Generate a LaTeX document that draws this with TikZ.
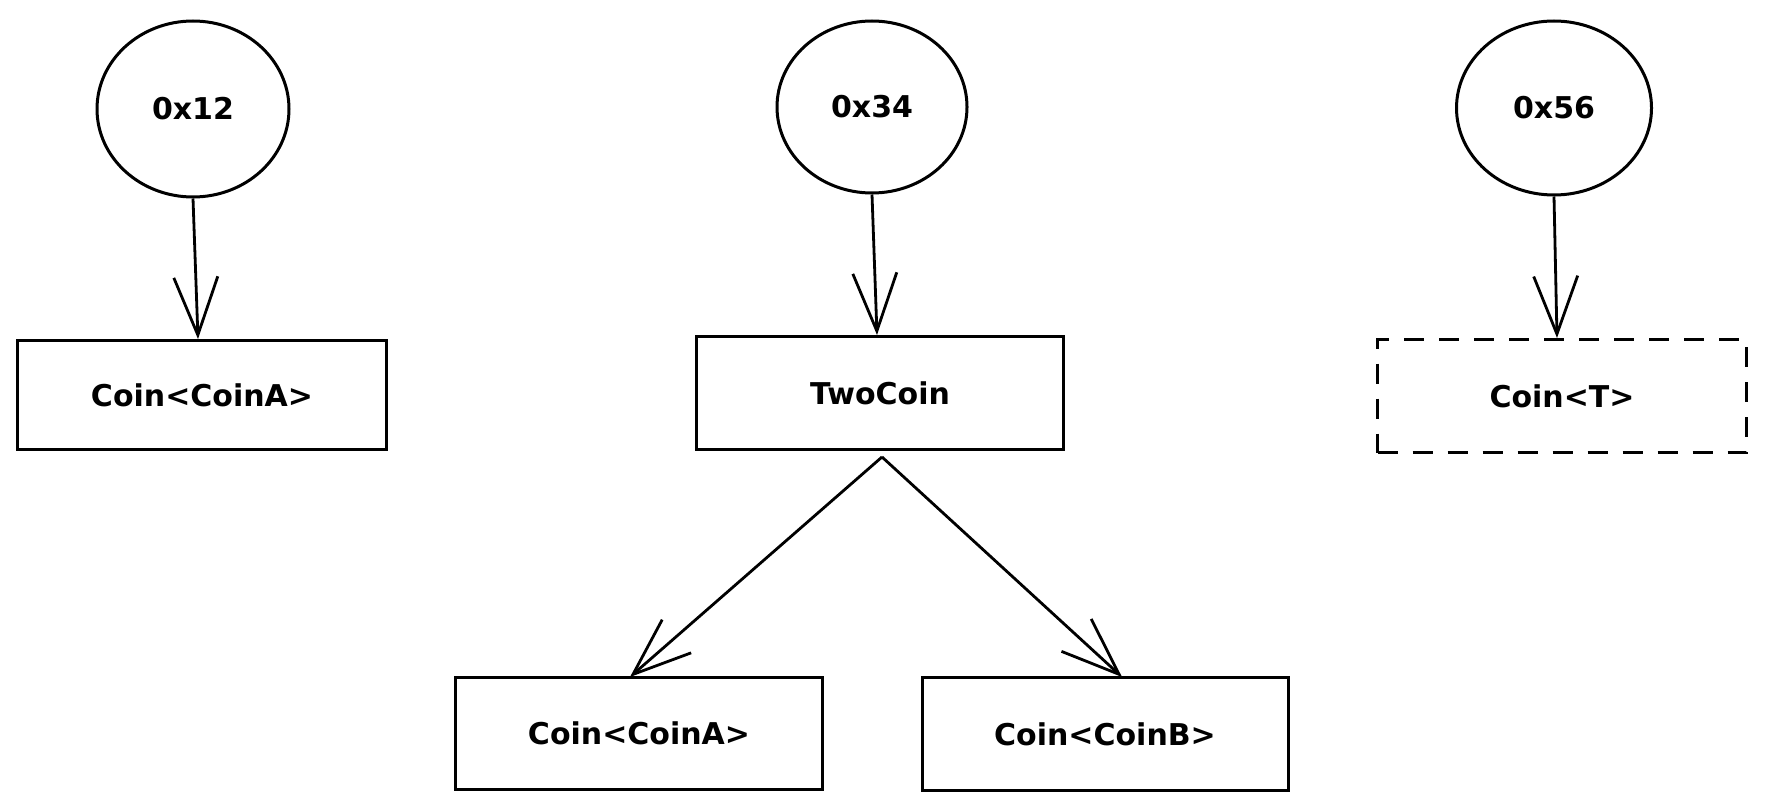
\documentclass[tikz,border=0pt]{standalone}
\usepackage{fontspec}
\setmainfont{DejaVu Sans}
\usetikzlibrary{shapes.geometric,arrows.meta}
\begin{document}
\begin{tikzpicture}[x=1pt,y=-1pt,
  every node/.style={font=\fontsize{30}{36}\selectfont\bfseries},
  addr/.style={draw,ellipse,line width=3pt,inner sep=0pt},
  typebox/.style={draw,rectangle,line width=3pt,inner sep=0pt},
  generic/.style={typebox,dash pattern=on 20pt off 15pt},
  link/.style={line width=2.8pt,-{Straight Barb[length=58pt,width=44pt,line width=2.8pt]}}
]
\useasboundingbox (0,0) rectangle (1766,810);
% address circles
\node[addr,minimum width=192pt,minimum height=176pt] (c1) at (193,109) {0x12};
\node[addr,minimum width=190pt,minimum height=172pt] (c2) at (872,107) {0x34};
\node[addr,minimum width=195pt,minimum height=174pt] (c3) at (1554,108) {0x56};
% boxes
\node[typebox,minimum width=369pt,minimum height=109pt] (b1) at (202,395) {Coin<CoinA>};
\node[typebox,minimum width=367pt,minimum height=113pt] (b2) at (880,393) {TwoCoin};
\node[generic,minimum width=369pt,minimum height=113pt] (b3) at (1562,396) {Coin<T>};
\node[typebox,minimum width=367pt,minimum height=112pt] (b4) at (639,733) {Coin<CoinA>};
\node[typebox,minimum width=366pt,minimum height=113pt] (b5) at (1105,734) {Coin<CoinB>};
\coordinate (split) at (882,457);
\coordinate (t4) at (630,677);
\coordinate (t5) at (1122,677);
% connectors
\draw[link] (c1.south) -- ([xshift=-4pt]b1.north);
\draw[link] (c2.south) -- ([xshift=-3pt]b2.north);
\draw[link] (c3.south) -- ([xshift=-5pt]b3.north);
\draw[link] (split) -- (t4);
\draw[link] (split) -- (t5);
\end{tikzpicture}
\end{document}
